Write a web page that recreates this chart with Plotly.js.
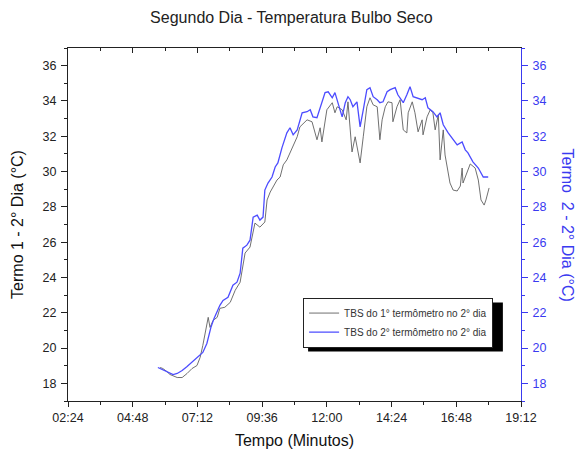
<!DOCTYPE html>
<html>
<head>
<meta charset="utf-8">
<script src="https://cdn.plot.ly/plotly-3.0.1.min.js"></script>
<style>html,body{margin:0;padding:0;background:#fff;}#chart{width:577px;height:461px;}</style>
</head>
<body>
<div id="chart"></div>
<script>
// Termo 1 (1° termômetro) - clock times and temperatures (°C)
const timesTermo1 = ["05:49","05:55","06:04","06:11","06:27","06:38","06:49","07:00","07:11","07:18","07:24","07:29","07:36","07:40","07:47","07:56","08:02","08:13","08:25","08:36","08:47","08:58","09:09","09:20","09:31","09:42","09:47","09:54","10:00","10:09","10:16","10:23","10:31","10:43","10:54","11:00","11:16","11:27","11:34","11:38","11:45","11:49","12:00","12:12","12:18","12:23","12:34","12:43","12:47","12:56","13:03","13:09","13:14","13:21","13:29","13:36","13:43","13:52","13:58","14:03","14:10","14:16","14:25","14:27","14:36","14:43","14:50","14:58","15:01","15:10","15:16","15:23","15:32","15:34","15:43","15:50","15:56","16:01","16:08","16:12","16:19","16:23","16:28","16:34","16:41","16:50","16:57","17:01","17:03","17:12","17:19","17:30","17:37","17:43","17:50","17:54","18:01"];
const tempTermo1 = [18.90,18.84,18.67,18.50,18.33,18.33,18.56,18.84,19.01,19.47,20.15,20.83,21.74,21.17,21.57,21.74,22.25,22.31,22.59,23.27,23.73,25.38,25.72,27.08,26.85,27.14,28.39,28.84,29.13,29.52,29.69,30.38,30.66,31.40,31.97,32.53,32.93,32.82,32.25,31.80,32.48,31.68,33.50,33.90,33.33,33.67,33.50,32.93,33.95,31.11,31.97,31.06,30.49,31.97,33.67,34.18,33.78,33.67,31.80,32.93,33.67,33.95,33.90,32.82,33.67,34.07,32.36,32.19,33.33,33.95,33.33,32.25,32.93,32.08,33.10,33.50,33.33,32.36,33.22,30.66,32.36,30.94,30.09,29.35,28.95,28.90,29.18,30.20,29.35,29.98,30.43,30.20,29.52,28.39,28.10,28.39,29.07];

// Termo 2 (2° termômetro)
const timesTermo2 = ["05:44","05:55","06:07","06:18","06:27","06:38","06:49","07:02","07:13","07:24","07:33","07:38","07:42","07:49","07:56","08:02","08:09","08:20","08:31","08:40","08:47","08:53","09:02","09:09","09:16","09:25","09:31","09:38","09:42","09:49","09:58","10:05","10:11","10:20","10:31","10:38","10:45","10:54","11:05","11:16","11:23","11:29","11:38","11:49","11:56","12:03","12:12","12:18","12:25","12:34","12:41","12:47","12:52","12:58","13:07","13:14","13:21","13:29","13:36","13:43","13:52","13:58","14:05","14:14","14:21","14:32","14:38","14:50","14:58","15:05","15:12","15:21","15:32","15:39","15:45","15:56","16:05","16:12","16:19","16:30","16:41","16:50","17:01","17:08","17:14","17:25","17:37","17:48","17:59"];
const tempTermo2 = [18.90,18.78,18.61,18.50,18.56,18.73,18.95,19.24,19.47,19.75,20.26,20.83,21.17,21.68,22.14,22.42,22.70,22.88,23.56,23.73,24.24,25.66,25.83,26.11,27.42,27.53,27.25,27.42,28.95,29.35,29.69,30.26,30.49,31.34,32.19,32.48,32.08,32.36,33.33,33.39,33.50,33.10,33.05,33.90,34.47,34.52,34.18,34.47,33.90,33.10,33.90,34.24,34.07,33.67,33.95,32.53,33.50,34.64,34.75,34.24,34.07,33.90,33.95,34.52,34.64,34.75,34.35,33.90,34.35,34.81,34.24,34.18,34.07,34.18,33.61,33.39,33.10,33.33,32.65,32.19,31.80,31.51,31.68,31.23,31.06,30.55,30.20,29.69,29.69];

const seriesNames = ["TBS do 1° termômetro no 2° dia", "TBS do 2° termômetro no 2° dia"];
const xTickRange = ["02:24", "19:12"];

const day = "2000-01-01 ";
const toDate = a => a.map(t => day + t);

const BLUE = "#3a3af0";
const FONT = "Liberation Sans, Arial, sans-serif";

const traces = [
  {x: toDate(timesTermo1), y: tempTermo1, name: seriesNames[0], type: "scatter", mode: "lines",
   line: {color: "#606060", width: 0.9}, xaxis: "x", yaxis: "y"},
  {x: toDate(timesTermo2), y: tempTermo2, name: seriesNames[1], type: "scatter", mode: "lines",
   line: {color: "#4c4cff", width: 1.3}, xaxis: "x2", yaxis: "y2"}
];

const xr = toDate(xTickRange);
const layout = {
  width: 577, height: 461,
  margin: {l: 68, r: 56, t: 48, b: 60},
  paper_bgcolor: "#fff", plot_bgcolor: "#fff",
  font: {family: FONT, color: "#222", size: 12.5},
  showlegend: true,
  title: {text: "Segundo Dia - Temperatura Bulbo Seco", font: {size: 16, color: "#222"}, x: 0.505, xanchor: "center", y: 0.962, yanchor: "middle"},
  xaxis: {
    type: "date", range: xr, tick0: xr[0], dtick: 8640000, tickformat: "%H:%M",
    showgrid: false, zeroline: false, showline: true, linecolor: "#222", linewidth: 1,
    ticks: "outside", ticklen: 5, tickcolor: "#222",
    minor: {dtick: 4320000, ticks: "outside", ticklen: 3, tickcolor: "#222"},
    tickfont: {size: 12.5, color: "#222"},
    title: {text: "Tempo (Minutos)", font: {size: 16, color: "#111"}, standoff: 10}
  },
  xaxis2: {
    type: "date", range: xr, matches: "x", overlaying: "x", side: "top", anchor: "y2",
    tick0: xr[0], dtick: 8640000, showticklabels: false,
    showgrid: false, zeroline: false, showline: true, linecolor: "#222", linewidth: 1,
    ticks: "inside", ticklen: 5, tickcolor: "#222",
    minor: {dtick: 4320000, ticks: "inside", ticklen: 3, tickcolor: "#222"}
  },
  yaxis: {
    range: [17, 37], tick0: 0, dtick: 2,
    showgrid: false, zeroline: false, showline: true, linecolor: "#222", linewidth: 1,
    ticks: "outside", ticklen: 6, tickcolor: "#222", ticklabelstandoff: 2,
    minor: {dtick: 1, ticks: "outside", ticklen: 3, tickcolor: "#222"},
    tickfont: {size: 12.5, color: "#222"},
    title: {text: "Termo 1 - 2° Dia (°C)", font: {size: 16, color: "#111"}, standoff: 14}
  },
  yaxis2: {
    range: [17, 37], tick0: 0, dtick: 2, overlaying: "y", side: "right", anchor: "x",
    showgrid: false, zeroline: false, showline: true, linecolor: BLUE, linewidth: 1,
    ticks: "outside", ticklen: 6, tickcolor: BLUE, ticklabelstandoff: 2,
    minor: {dtick: 1, ticks: "outside", ticklen: 3, tickcolor: BLUE},
    tickfont: {size: 12.5, color: BLUE}
  },
  annotations: [
    {text: "Termo  2 - 2° Dia (°C)", xref: "paper", yref: "paper", x: 1, y: 0.5, xanchor: "center", yanchor: "middle",
     xshift: 46, textangle: 90, showarrow: false, font: {size: 16, color: BLUE}}
  ],
  legend: {
    x: 0.519, y: 0.293, xanchor: "left", yanchor: "top",
    bgcolor: "#fff", bordercolor: "#222", borderwidth: 1,
    font: {size: 10, color: "#333"}, tracegroupgap: 0
  },
  shapes: [
    {type: "rect", xref: "paper", yref: "paper", x0: 0.530, x1: 0.960, y0: 0.140, y1: 0.279,
     fillcolor: "#000", line: {width: 0}, layer: "above"}
  ]
};

Plotly.newPlot("chart", traces, layout, {displayModeBar: false, staticPlot: true});
</script>
</body>
</html>
